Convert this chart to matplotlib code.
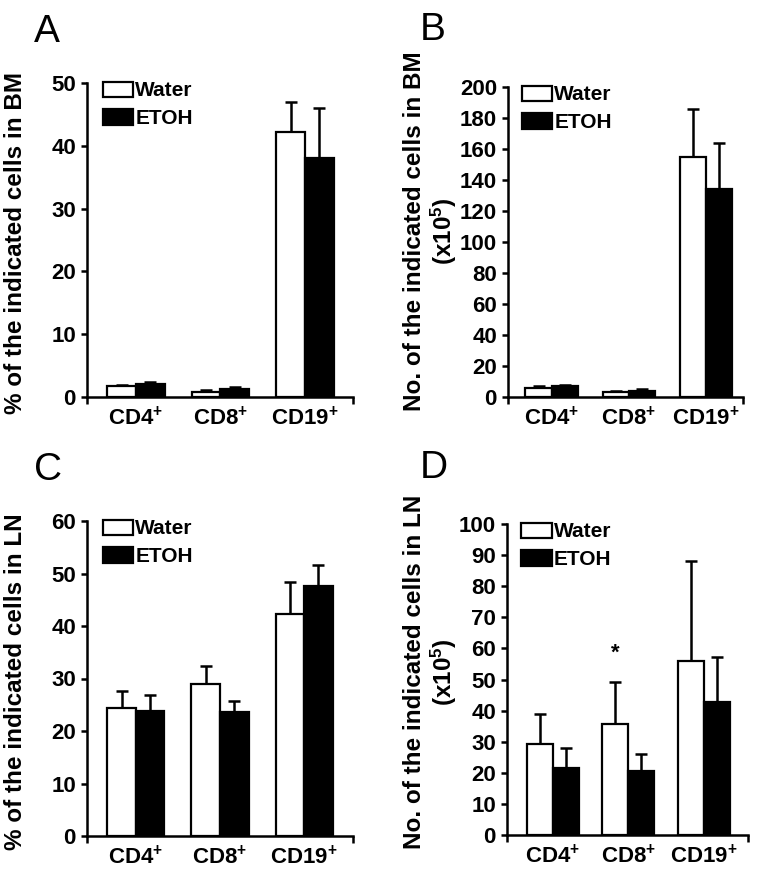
import numpy as np
import matplotlib
matplotlib.use('Agg')
import matplotlib.pyplot as plt

plt.rcParams['font.family'] = ['Liberation Sans', 'DejaVu Sans']
plt.rcParams['font.weight'] = 'bold'
plt.rcParams['mathtext.fontset'] = 'custom'
plt.rcParams['mathtext.rm'] = 'Liberation Sans:bold'
plt.rcParams['mathtext.bf'] = 'Liberation Sans:bold'
plt.rcParams['mathtext.default'] = 'bf'

# Datos
categorias = ['CD4$^{+}$', 'CD8$^{+}$', 'CD19$^{+}$']

# A: % de celulas en BM
a_water = [1.7, 0.8, 42.2]
a_water_err = [0.2, 0.3, 4.7]
a_etoh = [2.0, 1.2, 38.0]
a_etoh_err = [0.4, 0.4, 8.0]

# B: numero de celulas en BM (x10^5)
b_water = [6.0, 3.0, 155.0]
b_water_err = [1.0, 1.0, 31.0]
b_etoh = [7.0, 4.0, 134.0]
b_etoh_err = [1.0, 1.0, 30.0]

# C: % de celulas en LN
c_water = [24.3, 28.9, 42.2]
c_water_err = [3.3, 3.5, 6.2]
c_etoh = [23.9, 23.7, 47.6]
c_etoh_err = [3.0, 2.1, 4.0]

# D: numero de celulas en LN (x10^5)
d_water = [29.3, 35.7, 55.8]
d_water_err = [9.5, 13.5, 32.2]
d_etoh = [21.5, 20.6, 42.9]
d_etoh_err = [6.4, 5.4, 14.3]

fig = plt.figure(figsize=(7.62, 8.76), dpi=100)
W, H = 762.0, 876.0


def panel(rect_px, xlim, water, water_err, etoh, etoh_err, ymax, ystep,
          ylabel, label_xy, letter, letter_px, width=0.34):
    l, r, t, b = rect_px
    ax = fig.add_axes([l / W, 1 - b / H, (r - l) / W, (b - t) / H])
    x = np.arange(len(categorias))
    ax.bar(x - width / 2, water, width, color='white', edgecolor='black',
           linewidth=1.6, label='Water', zorder=2)
    ax.bar(x + width / 2, etoh, width, color='black', edgecolor='black',
           linewidth=1.6, label='ETOH', zorder=2)
    ax.errorbar(x - width / 2, water, yerr=[np.zeros(3), water_err], fmt='none',
                ecolor='black', elinewidth=1.8, capsize=4.5, capthick=1.8, zorder=1)
    ax.errorbar(x + width / 2, etoh, yerr=[np.zeros(3), etoh_err], fmt='none',
                ecolor='black', elinewidth=1.8, capsize=4.5, capthick=1.8, zorder=1)
    ax.set_xlim(*xlim)
    ax.set_ylim(0, ymax)
    ax.set_yticks(np.arange(0, ymax + 0.1, ystep))
    ax.set_xticks(x)
    ax.set_xticklabels(categorias, fontsize=16, fontweight='bold')
    ax.set_xticks(list(xlim), minor=True)
    ax.tick_params(axis='x', which='major', length=0, pad=7)
    ax.tick_params(axis='x', which='minor', length=5, width=1.8, direction='out')
    ax.tick_params(axis='y', length=4, width=1.8, direction='out', labelsize=16, pad=4)
    for lab in ax.get_yticklabels():
        lab.set_fontweight('bold')
    for s in ['top', 'right']:
        ax.spines[s].set_visible(False)
    for s in ['left', 'bottom']:
        ax.spines[s].set_linewidth(1.8)
    ax.set_ylabel(ylabel, fontsize=17.5, fontweight='bold', linespacing=1.1)
    ax.yaxis.set_label_coords(*label_xy)
    leg = ax.legend(loc='upper left', bbox_to_anchor=(0.06, 1.005), frameon=False,
                    fontsize=15, handlelength=1.45, handleheight=0.75,
                    handletextpad=0.1, labelspacing=0.42, borderpad=0,
                    borderaxespad=0)
    for txt in leg.get_texts():
        txt.set_fontweight('bold')
    fig.text(letter_px[0] / W, 1 - letter_px[1] / H, letter, fontsize=28,
             fontweight='normal', ha='left', va='baseline')
    return ax


panel((87, 353, 83, 397), (-0.58, 2.57), a_water, a_water_err, a_etoh, a_etoh_err,
      50, 10, '% of the indicated cells in BM', (-0.225, 0.49), 'A', (34, 42))
panel((508, 743, 87, 397), (-0.566, 2.48), b_water, b_water_err, b_etoh, b_etoh_err,
      200, 20, 'No. of the indicated cells in BM\n(x10$^{5}$)', (-0.21, 0.535),
      'B', (420, 40))
panel((87, 353, 521, 836), (-0.58, 2.58), c_water, c_water_err, c_etoh, c_etoh_err,
      60, 10, '% of the indicated cells in LN', (-0.225, 0.49), 'C', (34, 480))
axd = panel((507, 748, 524, 835), (-0.605, 2.587), d_water, d_water_err, d_etoh,
            d_etoh_err, 100, 10, 'No. of the indicated cells in LN\n(x10$^{5}$)',
            (-0.2, 0.524), 'D', (420, 478), width=0.345)
axd.text(1 - 0.345 / 2, 58.5, '*', ha='center', va='center', fontsize=16,
         fontweight='bold')

fig.savefig('out.png', dpi=100)
